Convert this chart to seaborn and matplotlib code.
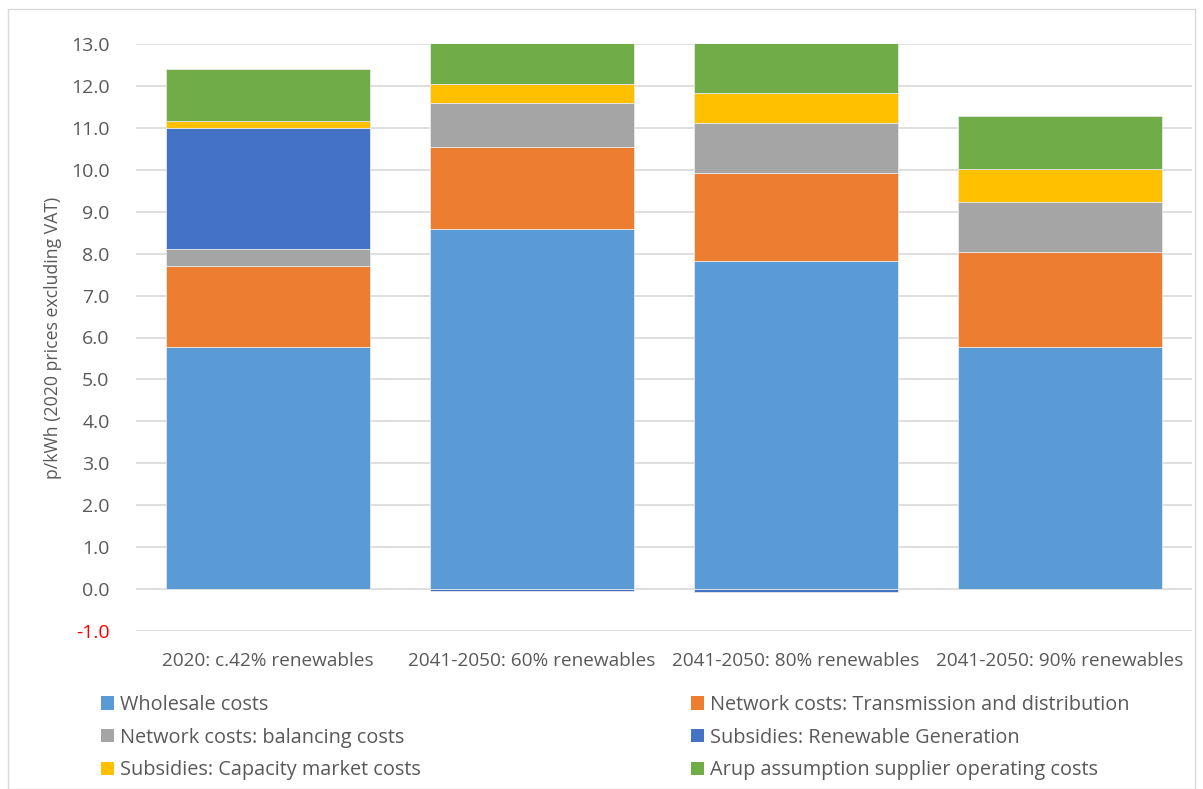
import matplotlib
matplotlib.use("Agg")
import matplotlib.pyplot as plt
from matplotlib.patches import Patch, Rectangle
import seaborn as sns
import numpy as np
import pandas as pd

categories = ["2020: c.42% renewables", "2041-2050: 60% renewables",
              "2041-2050: 80% renewables", "2041-2050: 90% renewables"]
wholesale = [5.77, 8.59, 7.82, 5.77]
network_td = [1.93, 1.96, 2.11, 2.28]
balancing = [0.41, 1.05, 1.19, 1.17]
renewable_subsidy = [2.89, -0.04, -0.06, 0.0]
capacity_market = [0.16, 0.45, 0.70, 0.81]
supplier_costs = [1.24, 1.25, 1.25, 1.26]

series_names = ["Wholesale costs", "Network costs: Transmission and distribution",
                "Network costs: balancing costs", "Subsidies: Renewable Generation",
                "Subsidies: Capacity market costs", "Arup assumption supplier operating costs"]
series_values = [wholesale, network_td, balancing, renewable_subsidy, capacity_market, supplier_costs]
colors = ["#5B9BD5", "#ED7D31", "#A5A5A5", "#4472C4", "#FFC000", "#70AD47"]
yticks = [-1.0, 0.0, 1.0, 2.0, 3.0, 4.0, 5.0, 6.0, 7.0, 8.0, 9.0, 10.0, 11.0, 12.0, 13.0]

sns.set_theme(style="white")
plt.rcParams['font.family'] = ['Open Sans', 'DejaVu Sans']

fig = plt.figure(figsize=(12.03, 7.89), dpi=100)
ax = fig.add_axes([136/1203, 158/789, 1056/1203, 587/789])

pos_base = np.zeros(len(categories))
neg_base = np.zeros(len(categories))
for name, vals, col in zip(series_names, series_values, colors):
    vals = np.array(vals, dtype=float)
    bottoms = np.where(vals >= 0, pos_base, neg_base)
    df = pd.DataFrame({"cat": categories, "val": vals})
    sns.barplot(data=df, x="cat", y="val", order=categories, color=col,
                bottom=bottoms, width=0.773, ax=ax, saturation=1,
                edgecolor="#E8E8E8", linewidth=0.6, zorder=3)
    pos_base = pos_base + np.where(vals >= 0, vals, 0)
    neg_base = neg_base + np.where(vals < 0, vals, 0)

ax.set_ylim(-1, 13)
ax.set_xlim(-0.5, 3.5)
ax.set_yticks(yticks)
ax.set_yticklabels([f"{t:.1f}" for t in yticks], fontsize=14, color="#595959")
ax.get_yticklabels()[0].set_color("#FF0000")
ax.grid(axis="y", color="#D9D9D9", linewidth=1.2, zorder=0)
ax.set_axisbelow(True)
for s in ax.spines.values():
    s.set_visible(False)
ax.tick_params(axis="y", length=0, pad=19)
ax.tick_params(axis="x", length=0, pad=15, labelsize=13.7, labelcolor="#595959")
ax.set_xlabel("")
ax.set_ylabel("p/kWh (2020 prices excluding VAT)", fontsize=12.7, color="#595959")
ax.yaxis.set_label_coords(-0.070, 0.5)

h1 = [Patch(facecolor=colors[i], edgecolor="none") for i in (0, 2, 4)]
l1 = [series_names[i] for i in (0, 2, 4)]
h2 = [Patch(facecolor=colors[i], edgecolor="none") for i in (1, 3, 5)]
l2 = [series_names[i] for i in (1, 3, 5)]
kw = dict(frameon=False, fontsize=14.3, handlelength=0.65, handleheight=0.65,
          handletextpad=0.3, labelspacing=0.64, labelcolor="#595959", loc="upper left")
leg1 = fig.legend(h1, l1, bbox_to_anchor=(83/1203, 1 - 677/789), **kw)
leg2 = fig.legend(h2, l2, bbox_to_anchor=(673/1203, 1 - 677/789), **kw)

fig.patches.append(Rectangle((8/1203, 0), 1187/1203, 1 - 9/789, transform=fig.transFigure,
                             fill=False, edgecolor="#D9D9D9", linewidth=1))

fig.savefig("out.png", dpi=100)
